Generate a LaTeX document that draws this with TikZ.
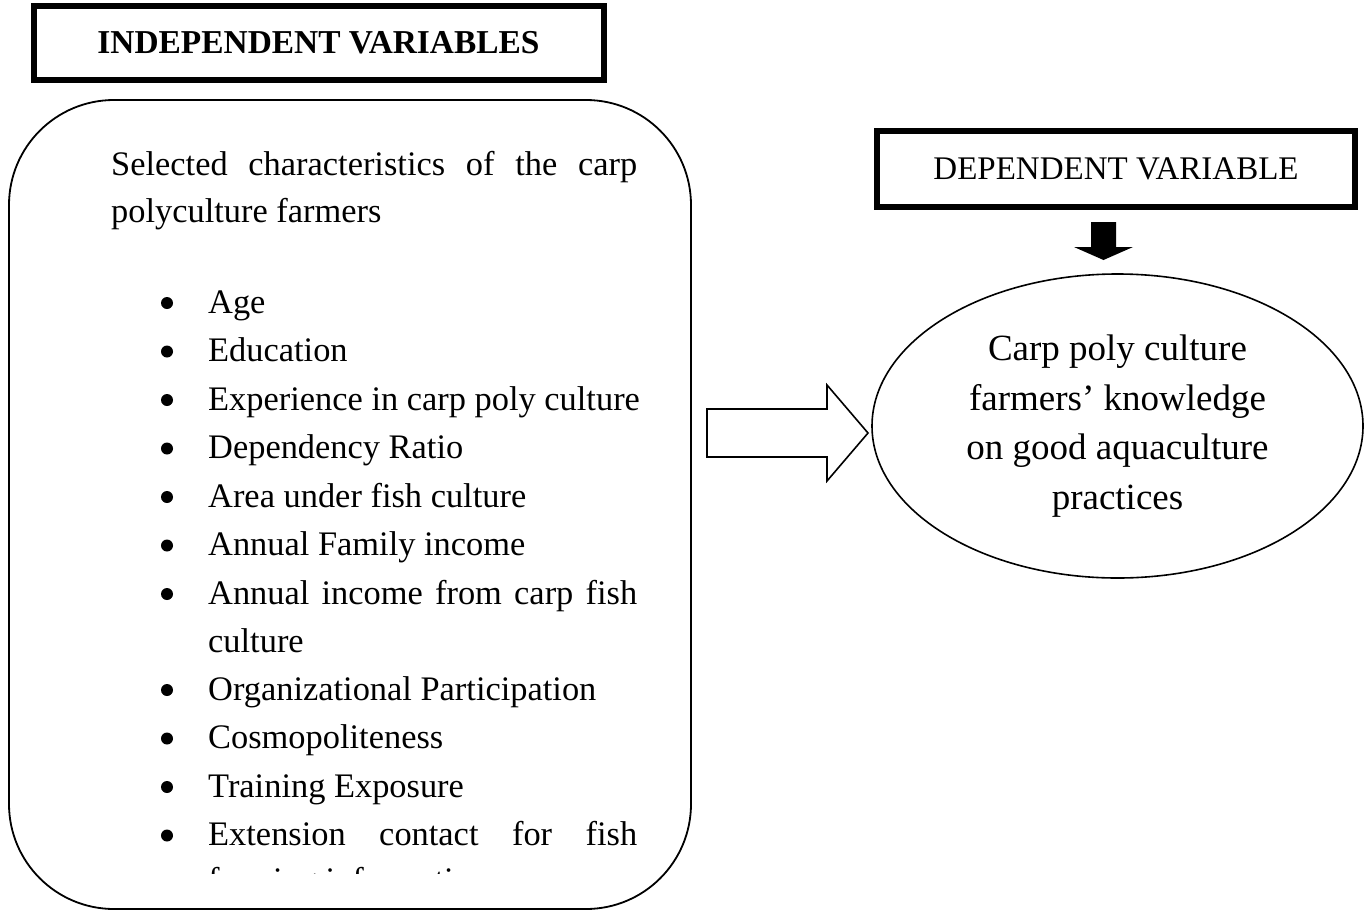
\documentclass[tikz,border=0pt]{standalone}
\usepackage{fontspec}
\setmainfont{Liberation Serif}
\usetikzlibrary{shapes.geometric}
\begin{document}
\begin{tikzpicture}[x=1pt,y=-1pt,
  thickbox/.style={draw, line width=6pt, inner sep=0pt},
  listtext/.style={anchor=base west, inner sep=0pt, font=\fontsize{34.4}{48}\selectfont},
  bul/.style={circle, fill=black, minimum size=12pt, inner sep=0pt},
  blockarrow/.style={draw, line width=1.6pt, line join=miter}]
\useasboundingbox (0,0) rectangle (1371,911);

% titles
\node[thickbox, minimum width=570pt, minimum height=74pt,
      font=\bfseries\fontsize{33.4}{40}\selectfont] (ivbox) at (318.5,43) {\raisebox{-1pt}{INDEPENDENT VARIABLES}};
\node[thickbox, minimum width=478pt, minimum height=76pt,
      font=\fontsize{33}{40}\selectfont] (dvbox) at (1116,169) {DEPENDENT VARIABLE};

% left rounded box
\node[draw, line width=1.8pt, rounded corners=105pt, minimum width=682pt,
      minimum height=809pt, inner sep=0pt] (lbox) at (350,504.5) {};

% intro text
\node[listtext] (sel1) at (111,175) {\makebox[526pt][s]{Selected characteristics of the carp}};
\node[listtext] (sel2) at (111,222) {polyculture farmers};

% list items
\foreach \t/\y/\n in {Age/313/a, Education/361.5/b, Experience in carp poly culture/410/c,
  Dependency Ratio/458.5/d, Area under fish culture/507/e, Annual Family income/555.5/f,
  Organizational Participation/700/h, Cosmopoliteness/748.5/i, Training Exposure/797/j}{
  \node[bul] (b\n) at (167,\y-10) {};
  \node[listtext] (t\n) at (208,\y) {\t};
}
\node[bul] (bg) at (167,594) {};
\node[listtext] (tg) at (208,604) {\makebox[429pt][s]{Annual income from carp fish}};
\node[listtext] (tg2) at (208,652) {culture};
\node[bul] (bk) at (167,835.5) {};
\node[listtext] (tk) at (208,845.5) {\makebox[429pt][s]{Extension contact for fish}};
\begin{scope}
  \clip (150,860) rectangle (690,873);
  \node[listtext] (tk2) at (208,891) {farming information};
\end{scope}

% ellipse
\node[ellipse, draw, line width=1.6pt, minimum width=491pt, minimum height=304pt,
      inner sep=0pt, align=center, font=\fontsize{37}{49.5}\selectfont] (ell) at (1117.5,426)
  {Carp poly culture\\farmers’ knowledge\\on good aquaculture\\practices};

% block arrow from left box to ellipse
\draw[blockarrow] (707,409) -- (827,409) -- (827,385) -- (868,433) -- (827,481)
  -- (827,457) -- (707,457) -- cycle;

% thick down arrow from dependent box to ellipse
\fill[black] (1091,222) -- (1116,222) -- (1116,247) -- (1133,247) -- (1103.5,260)
  -- (1074,247) -- (1091,247) -- cycle;
\end{tikzpicture}
\end{document}
